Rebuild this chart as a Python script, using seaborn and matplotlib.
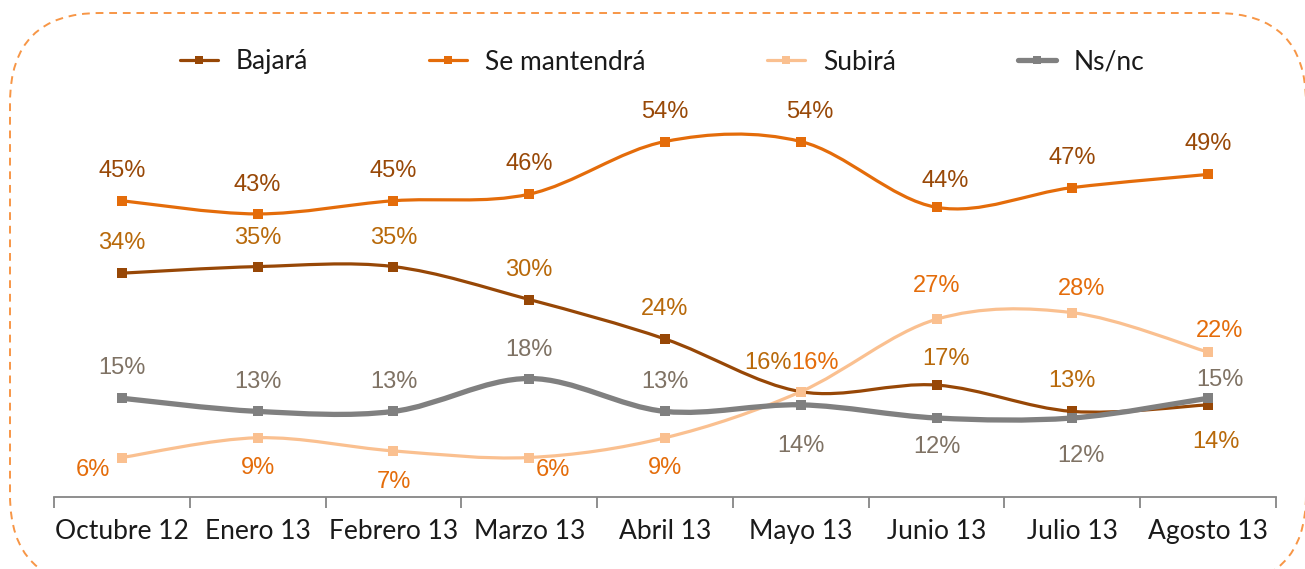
import numpy as np
import pandas as pd
import seaborn as sns
import matplotlib.pyplot as plt
from matplotlib.path import Path
from matplotlib.patches import PathPatch, FancyBboxPatch
from matplotlib.lines import Line2D
from matplotlib.transforms import IdentityTransform

# --- data -------------------------------------------------------------
months = ["Octubre 12", "Enero 13", "Febrero 13", "Marzo 13", "Abril 13",
          "Mayo 13", "Junio 13", "Julio 13", "Agosto 13"]
series_names = ["Bajará", "Se mantendrá", "Subirá", "Ns/nc"]
bajara = [34, 35, 35, 30, 24, 16, 17, 13, 14]
se_mantendra = [45, 43, 45, 46, 54, 54, 44, 47, 49]
subira = [6, 9, 7, 6, 9, 16, 27, 28, 22]
nsnc = [15, 13, 13, 18, 13, 14, 12, 12, 15]

# --- styling ----------------------------------------------------------
line_colors = {"Bajará": "#974706", "Se mantendrá": "#E46C0A",
               "Subirá": "#FAC090", "Ns/nc": "#808080"}
label_colors = {"Bajará": "#B8690A", "Se mantendrá": "#984807",
                "Subirá": "#E46C0A", "Ns/nc": "#7F7264"}
line_widths = {"Bajará": 2.3, "Se mantendrá": 2.3, "Subirá": 2.3, "Ns/nc": 3.8}

# label offsets in pixels (dx, dy) relative to each point
label_offsets = {
    "Se mantendrá": [(0, 30), (0, 29), (0, 30), (0, 30), (0, 30), (9, 30), (9, 26), (0, 30), (0, 30)],
    "Bajará": [(0, 30), (0, 29), (0, 29), (0, 30), (0, 30), (-33, 29), (9, 26), (0, 30), (8, -37)],
    "Subirá": [(-29, -12), (0, -30), (0, -31), (24, -12), (0, -30), (14, 29), (0, 33), (9, 24), (11, 21)],
    "Ns/nc": [(0, 30), (0, 29), (0, 29), (0, 29), (0, 29), (0, -41), (0, -29), (9, -38), (12, 18)],
}

values = {"Bajará": bajara, "Se mantendrá": se_mantendra,
          "Subirá": subira, "Ns/nc": nsnc}

df = pd.concat([
    pd.DataFrame({"pos": np.arange(len(months)), "mes": months,
                  "valor": values[name], "serie": name})
    for name in series_names
], ignore_index=True)

sns.set_theme(style="white")
plt.rcParams["font.family"] = ["Lato", "DejaVu Sans"]
label_font = ["Liberation Sans", "DejaVu Sans"]

W, H = 1305, 569
fig = plt.figure(figsize=(W / 100, H / 100), dpi=100)
ax = fig.add_axes([54 / W, 72 / H, 1222 / W, 395 / H])
ax.set_xlim(-0.5, len(months) - 0.5)
ax.set_ylim(0, 60)


def smooth_path(xs, ys):
    """Cubic Bezier path through the points (Catmull-Rom style)."""
    pts = np.column_stack([xs, ys]).astype(float)
    n = len(pts)
    verts = [tuple(pts[0])]
    codes = [Path.MOVETO]
    for i in range(n - 1):
        p0 = pts[max(i - 1, 0)]
        p1 = pts[i]
        p2 = pts[i + 1]
        p3 = pts[min(i + 2, n - 1)]
        c1 = p1 + (p2 - p0) / 6.0
        c2 = p2 - (p3 - p1) / 6.0
        verts += [tuple(c1), tuple(c2), tuple(p2)]
        codes += [Path.CURVE4] * 3
    return Path(verts, codes)


for k, name in enumerate(series_names):
    sub = df[df["serie"] == name]
    patch = PathPatch(smooth_path(sub["pos"], sub["valor"]), facecolor="none",
                      edgecolor=line_colors[name], lw=line_widths[name],
                      capstyle="round", joinstyle="round", zorder=2 + k)
    ax.add_patch(patch)
    sns.scatterplot(data=sub, x="pos", y="valor", marker="s", s=46,
                    color=line_colors[name], edgecolor=line_colors[name],
                    linewidth=0, ax=ax, zorder=2.5 + k, legend=False)
    for (x, v), (dx, dy) in zip(zip(sub["pos"], sub["valor"]), label_offsets[name]):
        ax.annotate(f"{v}%", (x, v), xytext=(dx, dy), textcoords="offset pixels",
                    ha="center", va="center", fontsize=17, family=label_font,
                    color=label_colors[name], zorder=10)

# axes decoration
for side in ["left", "right", "top"]:
    ax.spines[side].set_visible(False)
ax.spines["bottom"].set_color("#868686")
ax.spines["bottom"].set_linewidth(1.3)
ax.set_yticks([])
ax.set_xticks(np.arange(len(months)))
ax.set_xticklabels(months, fontsize=19, color="#1a1a1a")
ax.set_xticks(np.arange(-0.5, len(months), 1.0), minor=True)
ax.tick_params(axis="x", which="major", length=0, pad=16)
ax.tick_params(axis="x", which="minor", length=8, width=1.3, color="#868686",
               direction="out", bottom=True)
ax.set_xlabel("")
ax.set_ylabel("")

# legend
handles = [Line2D([0], [0], color=line_colors[n], lw=line_widths[n], marker="s",
                  markersize=6, markeredgewidth=0) for n in series_names]
fig.legend(handles, series_names, loc="center", bbox_to_anchor=(662 / W, 1 - 62 / H),
           ncol=4, frameon=False, fontsize=19, handlelength=1.44,
           handletextpad=0.68, columnspacing=4.6, labelcolor="#1a1a1a")

# dashed rounded frame around the chart (pixel coordinates)
frame = FancyBboxPatch((10, -16), 1296, 572,
                       boxstyle="round,pad=0,rounding_size=90",
                       transform=IdentityTransform(), facecolor="none",
                       edgecolor="#F79646", lw=1.4, linestyle=(0, (4, 3)))
fig.patches.append(frame)

fig.savefig("out.png", dpi=100)
